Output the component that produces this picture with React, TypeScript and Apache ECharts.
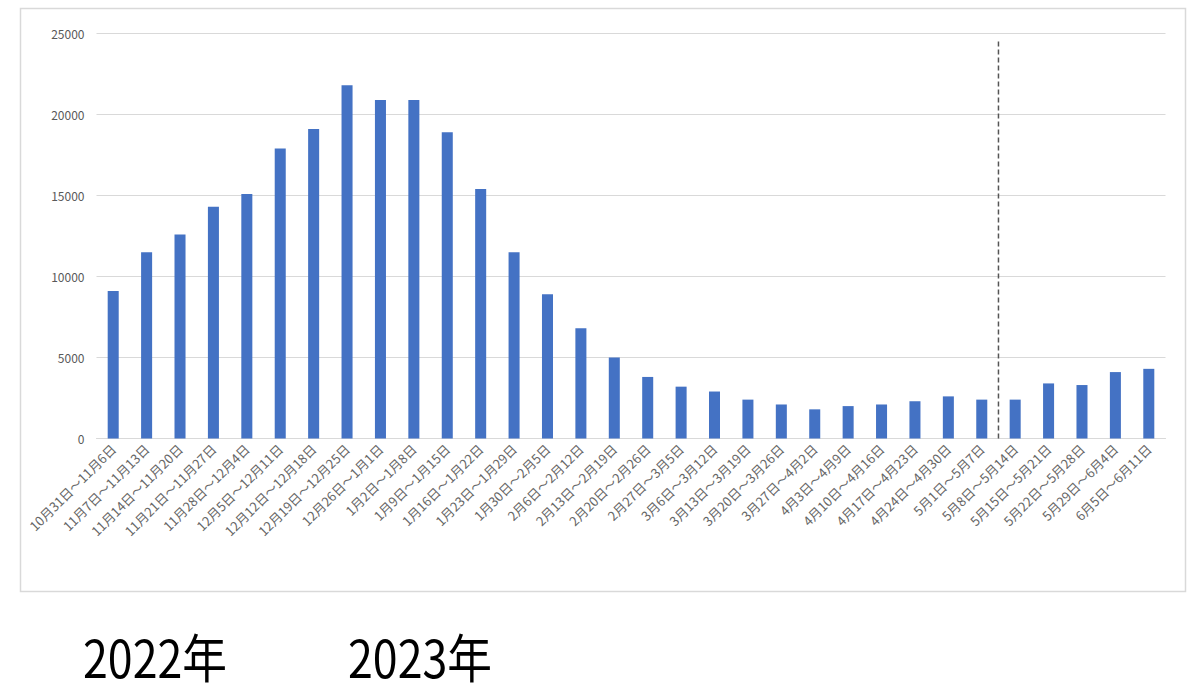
import React, { useEffect, useRef } from "react";
import * as echarts from "echarts";

// Weekly periods (Mon–Sun), 2022-10-31 through 2023-06-11
const weeks: string[] = [
  "10月31日～11月6日",
  "11月7日～11月13日",
  "11月14日～11月20日",
  "11月21日～11月27日",
  "11月28日～12月4日",
  "12月5日～12月11日",
  "12月12日～12月18日",
  "12月19日～12月25日",
  "12月26日～1月1日",
  "1月2日～1月8日",
  "1月9日～1月15日",
  "1月16日～1月22日",
  "1月23日～1月29日",
  "1月30日～2月5日",
  "2月6日～2月12日",
  "2月13日～2月19日",
  "2月20日～2月26日",
  "2月27日～3月5日",
  "3月6日～3月12日",
  "3月13日～3月19日",
  "3月20日～3月26日",
  "3月27日～4月2日",
  "4月3日～4月9日",
  "4月10日～4月16日",
  "4月17日～4月23日",
  "4月24日～4月30日",
  "5月1日～5月7日",
  "5月8日～5月14日",
  "5月15日～5月21日",
  "5月22日～5月28日",
  "5月29日～6月4日",
  "6月5日～6月11日",
];

const weeklyCounts: number[] = [
  9100, 11500, 12600, 14300, 15100, 17900, 19100, 21800, 20900, 20900, 18900,
  15400, 11500, 8900, 6800, 5000, 3800, 3200, 2900, 2400, 2100, 1800, 2000,
  2100, 2300, 2600, 2400, 2400, 3400, 3300, 4100, 4300,
];

const yTicks = { min: 0, max: 25000, interval: 5000 };

// Dashed divider placed at the start of this week
const dividerWeek = "5月8日～5月14日";
const dividerTop = 24500;

const yearLabels: string[] = ["2022年", "2023年"];

const GRAY_TEXT = "#595959";
const GRID_GRAY = "#d9d9d9";
const LABEL_FONT = "'Noto Sans CJK JP', 'Noto Sans', sans-serif";

export default function App() {
  const ref = useRef<HTMLDivElement>(null);

  useEffect(() => {
    if (!ref.current) return;
    const chart = echarts.init(ref.current, undefined, { renderer: "svg" });
    const dividerIndex = weeks.indexOf(dividerWeek);

    const yearText = (label: string, x: number) => ({
      type: "text",
      x,
      y: 655,
      scaleX: 0.86,
      style: {
        text: label,
        fill: "#000000",
        font: `normal 52px ${LABEL_FONT}`,
        verticalAlign: "middle",
        align: "left",
      },
    });

    chart.setOption({
      animation: false,
      backgroundColor: "#ffffff",
      textStyle: { fontFamily: LABEL_FONT },
      grid: { left: 96.5, right: 30.5, top: 33.5, bottom: 245.5, containLabel: false },
      xAxis: [
        {
          type: "category",
          data: weeks,
          axisLine: { lineStyle: { color: GRID_GRAY, width: 1 } },
          axisTick: { show: false },
          axisLabel: {
            interval: 0,
            rotate: 45,
            margin: 8,
            color: "#666666",
            fontSize: 13,
            fontFamily: LABEL_FONT,
          },
        },
        {
          // hidden band axis used to position the divider between weeks
          type: "value",
          min: 0,
          max: weeks.length,
          show: false,
        },
      ],
      yAxis: {
        type: "value",
        min: yTicks.min,
        max: yTicks.max,
        interval: yTicks.interval,
        axisLine: { show: false },
        axisTick: { show: false },
        axisLabel: {
          color: GRAY_TEXT,
          fontSize: 12,
          margin: 12,
          fontFamily: LABEL_FONT,
          formatter: (v: number) => String(v),
        },
        splitLine: { lineStyle: { color: GRID_GRAY, width: 1 } },
      },
      series: [
        {
          type: "bar",
          data: weeklyCounts,
          barWidth: "33%",
          itemStyle: { color: "#4472C4" },
        },
        {
          type: "line",
          xAxisIndex: 1,
          data: [
            [dividerIndex, dividerTop],
            [dividerIndex, 0],
          ],
          symbol: "none",
          lineStyle: { color: "#555555", width: 1.5, type: [5, 3] },
          z: 5,
        },
      ],
      graphic: [
        {
          type: "rect",
          shape: { x: 20.5, y: 8.5, width: 1165, height: 583 },
          style: { fill: "none", stroke: GRID_GRAY, lineWidth: 1.5 },
          silent: true,
        },
        yearText(yearLabels[0], 83),
        yearText(yearLabels[1], 348),
      ],
    });

    return () => chart.dispose();
  }, []);

  return (
    <div
      ref={ref}
      style={{ position: "absolute", left: 0, top: 0, width: 1196, height: 684 }}
    />
  );
}
